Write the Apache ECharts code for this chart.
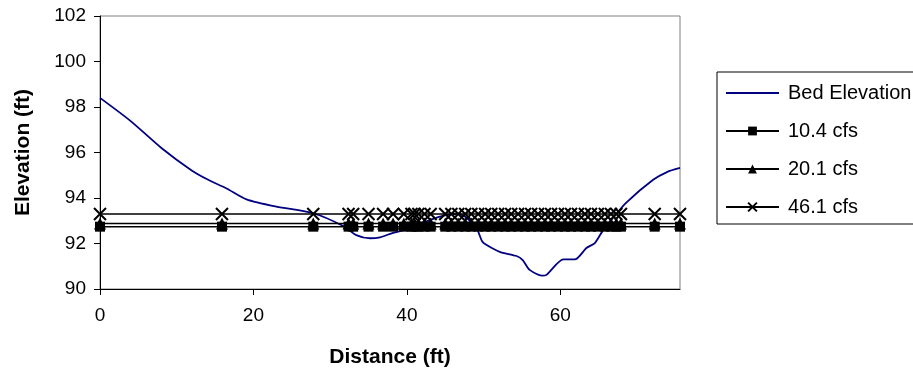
<!DOCTYPE html>
<html><head><meta charset="utf-8">
<script src="https://cdn.jsdelivr.net/npm/echarts@6/dist/echarts.min.js"></script>
<style>html,body{margin:0;padding:0;background:#fff}#c{width:913px;height:381px}</style>
</head><body><div id="c"></div>
<script>
const bedStation = [0, 4, 8, 12, 14.1, 16.5, 19.1, 23, 27.8, 31.7, 33.4, 35.2, 36.5, 38.2, 40, 42, 44.3, 46.5, 47.5, 48.5, 49.2, 49.8, 50.4, 52.1, 54.3, 55.1, 56, 57.6, 58.2, 60.4, 61.9, 63.4, 64.5, 65.6, 66.8, 68.6, 72.1, 73.9, 75.6];
const bedElev = [98.4, 97.38, 96.2, 95.2, 94.8, 94.42, 93.94, 93.62, 93.33, 92.77, 92.37, 92.23, 92.27, 92.47, 92.62, 92.9, 93.18, 93.3, 93.2, 92.9, 92.6, 92.1, 91.93, 91.63, 91.45, 91.27, 90.84, 90.59, 90.62, 91.3, 91.3, 91.8, 92.02, 92.6, 93.1, 93.8, 94.8, 95.14, 95.32];
const wsStation = [0, 15.9, 27.8, 32.4, 33.0, 35.0, 36.9, 38.2, 39.6, 40.6, 41.0, 41.5, 42.3, 43.1, 45.0, 45.8, 46.7, 47.6, 48.4, 49.3, 50.2, 51.0, 51.9, 52.8, 53.6, 54.5, 55.4, 56.2, 57.1, 58.0, 58.8, 59.7, 60.6, 61.4, 62.3, 63.2, 64.0, 64.9, 65.8, 66.6, 67.3, 67.9, 72.3, 75.6];
const level104 = 92.74;
const level201 = 92.88;
const level461 = 93.30;
const seriesNames = ['Bed Elevation', '10.4 cfs', '20.1 cfs', '46.1 cfs'];
const yTicks = [90, 92, 94, 96, 98, 100, 102];
const xTicks = [0, 20, 40, 60];

const font = 'Liberation Sans, Arial, sans-serif';
const pair = (xs, ys) => xs.map((x, i) => [x, Array.isArray(ys) ? ys[i] : ys]);
const xPath = 'path://M0,0 L10,10 M10,0 L0,10';
const linePath = 'path://M0,0 L54,0 L54,2 L0,2 Z';

const chart = echarts.init(document.getElementById('c'), null, {renderer: 'canvas'});
chart.setOption({
  animation: false,
  backgroundColor: '#fff',
  grid: {left: 100, right: 233, top: 16, bottom: 92, show: true, borderColor: '#808080', borderWidth: 1, backgroundColor: 'transparent'},
  xAxis: {
    type: 'value', min: 0, max: 75.6, interval: 20,
    name: 'Distance (ft)', nameLocation: 'middle', nameGap: 58,
    nameTextStyle: {fontFamily: font, fontSize: 21, fontWeight: 'bold', color: '#000'},
    axisLine: {show: true, onZero: false, lineStyle: {color: '#000', width: 1}},
    axisTick: {show: true, length: 6, lineStyle: {color: '#000'}},
    axisLabel: {fontFamily: font, fontSize: 19, color: '#000', margin: 17, showMaxLabel: false,
      formatter: v => xTicks.includes(v) ? String(v) : ''},
    splitLine: {show: false}
  },
  yAxis: {
    type: 'value', min: yTicks[0], max: yTicks[yTicks.length - 1], interval: 2,
    name: 'Elevation (ft)', nameLocation: 'middle', nameGap: 66, nameRotate: 90,
    nameTextStyle: {fontFamily: font, fontSize: 21, fontWeight: 'bold', color: '#000'},
    axisLine: {show: true, onZero: false, lineStyle: {color: '#000', width: 1}},
    axisTick: {show: true, length: 6, lineStyle: {color: '#000'}},
    axisLabel: {fontFamily: font, fontSize: 19, color: '#000', margin: 14},
    splitLine: {show: false}
  },
  legend: {
    orient: 'vertical', left: 717, top: 72,
    data: [{name: seriesNames[0], icon: linePath}, seriesNames[1], seriesNames[2], seriesNames[3]],
    borderColor: '#000', borderWidth: 1, backgroundColor: '#fff',
    padding: [11, 60, 7, 8],
    itemWidth: 53, itemHeight: 11, itemGap: 18,
    textStyle: {fontFamily: font, fontSize: 20, color: '#000', padding: [0, 0, 0, 4]}
  },
  series: [
    {name: seriesNames[1], type: 'line', data: pair(wsStation, level104), symbol: 'rect', symbolSize: 10,
     lineStyle: {color: '#000', width: 1.5}, itemStyle: {color: '#000'}, z: 3},
    {name: seriesNames[2], type: 'line', data: pair(wsStation, level201), symbol: 'triangle', symbolSize: 12,
     lineStyle: {color: '#000', width: 1.5}, itemStyle: {color: '#000'}, z: 3},
    {name: seriesNames[3], type: 'line', data: pair(wsStation, level461), symbol: xPath, symbolSize: 12,
     lineStyle: {color: '#000', width: 1.5}, itemStyle: {color: 'transparent', borderColor: '#000', borderWidth: 2}, z: 3},
    {name: seriesNames[0], type: 'line', data: pair(bedStation, bedElev), symbol: 'none', smooth: 0.25,
     lineStyle: {color: '#000080', width: 1.8}, itemStyle: {color: '#000080'}, z: 2}
  ]
});
</script></body></html>
